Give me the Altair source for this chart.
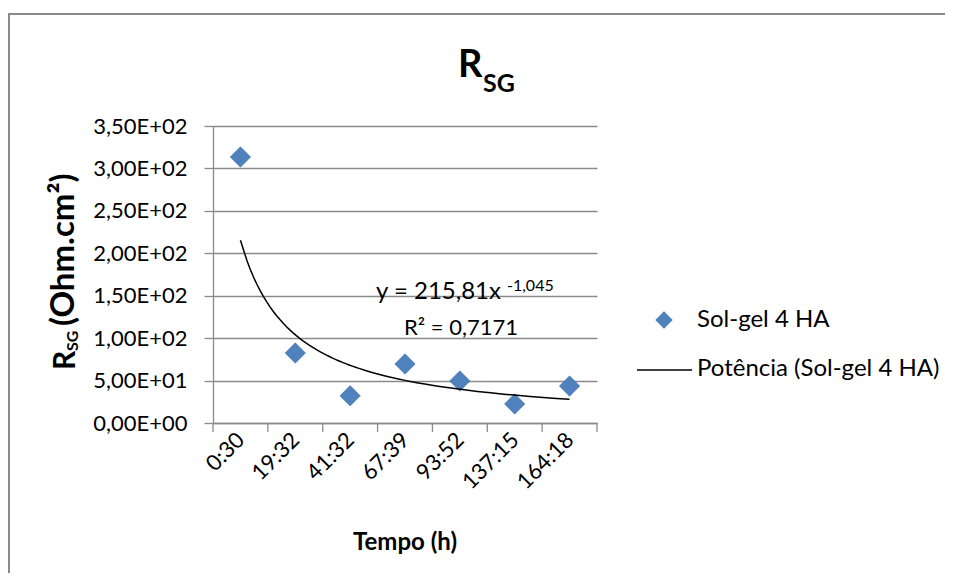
import altair as alt
import pandas as pd

# ---- data ----
categories = ["0:30", "19:32", "41:32", "67:39", "93:52", "137:15", "164:18"]
positions = [1, 2, 3, 4, 5, 6, 7]
values = [313.5, 82.5, 32.0, 69.5, 49.5, 22.5, 43.5]
y_ticks = [0, 50, 100, 150, 200, 250, 300, 350]
y_labels = ["0,00E+00", "5,00E+01", "1,00E+02", "1,50E+02",
            "2,00E+02", "2,50E+02", "3,00E+02", "3,50E+02"]
boundaries = [0.5, 1.5, 2.5, 3.5, 4.5, 5.5, 6.5, 7.5]
series_name = "Sol-gel 4 HA"
trend_name = "Potência (Sol-gel 4 HA)"
equation = "y = 215,81x"
exponent = "-1,045"
r2_text = "R² = 0,7171"

FONT = "Lato"
GRAY = "#8a8a8a"
BLUE = "#4F81BD"
W, H = 384, 297

df = pd.DataFrame({"pos": positions, "cat": categories, "val": values})
bdf = pd.DataFrame({"b": boundaries})
one = pd.DataFrame({"k": [0]})

x_expr = "[" + ",".join("'%s'" % c for c in [""] + categories) + "][round(datum.value)]"
y_expr = "[" + ",".join("'%s'" % l for l in y_labels) + "][round(datum.value/50)]"

xscale = alt.Scale(domain=[0.5, 7.5], nice=False, zero=False)
yscale = alt.Scale(domain=[0, 350], nice=False, zero=True)

xaxis = alt.Axis(values=positions, labelExpr=x_expr, labelAngle=-45, labelAlign="right",
                 labelBaseline="middle", ticks=False, labelPadding=13, grid=False,
                 domainColor=GRAY, domainWidth=1.3, labelFont=FONT, labelFontSize=22,
                 labelColor="black", title=None, labelOverlap=False)
yaxis = alt.Axis(values=y_ticks, labelExpr=y_expr, grid=True, gridColor=GRAY, gridWidth=1.3,
                 domainColor=GRAY, domainWidth=1.3, tickColor=GRAY, tickWidth=1.3, tickSize=9,
                 labelPadding=17, labelFont=FONT, labelFontSize=22, labelColor="black",
                 title=None, labelOverlap=False)

points = alt.Chart(df).mark_point(shape="diamond", filled=True, size=420, color=BLUE,
                                  opacity=1, stroke="#3f6fa8", strokeWidth=0.5).encode(
    x=alt.X("pos:Q", scale=xscale, axis=xaxis),
    y=alt.Y("val:Q", scale=yscale, axis=yaxis),
)

trend = alt.Chart(df).transform_regression(
    "pos", "val", method="pow", extent=[1, 7]
).mark_line(color="black", strokeWidth=1.5).encode(
    x=alt.X("pos:Q", scale=xscale),
    y=alt.Y("val:Q", scale=yscale),
)

xticks = alt.Chart(bdf).mark_rule(color=GRAY, strokeWidth=1.3).encode(
    x=alt.X("b:Q", scale=xscale),
    y=alt.value(H),
    y2=alt.value(H + 9),
)


def txt(text, x, y, size, bold=False, align="left", angle=0, baseline="alphabetic"):
    kw = dict(text=text, font=FONT, fontSize=size, color="black", align=align,
              baseline=baseline)
    if bold:
        kw["fontWeight"] = "bold"
    if angle:
        kw["angle"] = angle
    return alt.Chart(one).mark_text(**kw).encode(x=alt.value(x), y=alt.value(y))


# chart title R_SG
title_r = txt("R", 245, -49, 38, bold=True)
title_sg = txt("SG", 270, -34, 25, bold=True)

# y axis title R_SG (Ohm.cm²)
yt_r = txt("R", -138, 244, 30, bold=True, angle=270)
yt_sg = txt("SG", -135, 225, 16, bold=True, angle=270)
yt_rest = txt("(Ohm.cm²)", -139, 200, 33, bold=True, angle=270)

# x axis title
xt = txt("Tempo (h)", 192, 424, 24, bold=True, align="center")

# equation annotation
eq = txt(equation, 163, 173, 24)
eq_exp = txt(exponent, 294, 165, 16)
r2 = txt(r2_text, 248, 209, 22, align="center")

# legend
leg_pt = alt.Chart(one).mark_point(shape="diamond", filled=True, size=300, color=BLUE,
                                   opacity=1).encode(x=alt.value(451), y=alt.value(194))
leg_t1 = txt(series_name, 484, 201, 24)
leg_line = alt.Chart(one).mark_rule(color="black", strokeWidth=1.5).encode(
    x=alt.value(424), x2=alt.value(479), y=alt.value(244))
leg_t2 = txt(trend_name, 484, 250, 24)

# outer frame
frame_left = alt.Chart(one).mark_rule(color=GRAY, strokeWidth=2).encode(
    x=alt.value(-204), y=alt.value(-112), y2=alt.value(700))
frame_top = alt.Chart(one).mark_rule(color=GRAY, strokeWidth=2).encode(
    x=alt.value(-205), x2=alt.value(900), y=alt.value(-112))

chart = alt.layer(
    points, trend, xticks, title_r, title_sg, yt_r, yt_sg, yt_rest, xt, eq, eq_exp, r2,
    leg_pt, leg_t1, leg_line, leg_t2, frame_left, frame_top,
).properties(
    width=W, height=H,
    padding={"left": 205, "top": 118, "right": 348, "bottom": 150},
    autosize=alt.AutoSizeParams(type="none"),
    background="white",
).configure_view(stroke=None)

chart.save("out.html", embed_options={"renderer": "svg", "actions": False})
